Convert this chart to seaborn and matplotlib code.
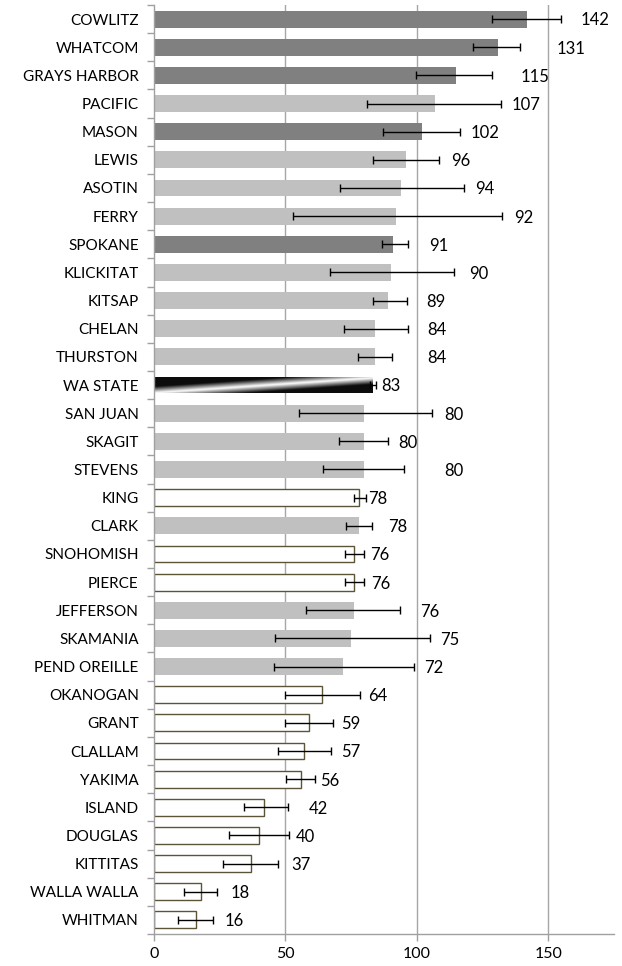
import numpy as np
import pandas as pd
import matplotlib
matplotlib.use("Agg")
import matplotlib.pyplot as plt
import seaborn as sns

counties = ["COWLITZ", "WHATCOM", "GRAYS HARBOR", "PACIFIC", "MASON", "LEWIS", "ASOTIN",
            "FERRY", "SPOKANE", "KLICKITAT", "KITSAP", "CHELAN", "THURSTON", "WA STATE",
            "SAN JUAN", "SKAGIT", "STEVENS", "KING", "CLARK", "SNOHOMISH", "PIERCE",
            "JEFFERSON", "SKAMANIA", "PEND OREILLE", "OKANOGAN", "GRANT", "CLALLAM",
            "YAKIMA", "ISLAND", "DOUGLAS", "KITTITAS", "WALLA WALLA", "WHITMAN"]
rates = [142, 131, 115, 107, 102, 96, 94, 92, 91, 90, 89, 84, 84, 83, 80, 80, 80,
         78, 78, 76, 76, 76, 75, 72, 64, 59, 57, 56, 42, 40, 37, 18, 16]
ci_low = [128.4, 121.2, 99.8, 81.2, 87.1, 83.3, 70.6, 52.9, 86.8, 66.8, 83.2, 72.1, 77.5,
          82.2, 55.0, 70.5, 64.4, 76.1, 73.2, 72.6, 72.6, 57.9, 46.1, 45.7, 49.9, 49.9,
          47.0, 50.4, 34.2, 28.6, 26.1, 11.6, 9.3]
ci_high = [154.8, 139.4, 128.4, 132.2, 116.5, 108.5, 118.0, 132.4, 96.6, 114.0, 96.2, 96.6,
           90.5, 84.5, 105.8, 89.0, 95.1, 80.8, 83.0, 79.9, 79.9, 93.7, 104.9, 99.0, 78.5,
           68.2, 67.4, 61.3, 50.8, 51.5, 47.0, 24.0, 22.6]
# group: 'high' = significantly higher, 'ns' = not significant, 'low' = lower, 'state'
groups = ["high", "high", "high", "ns", "high", "ns", "ns", "ns", "high", "ns", "ns", "ns",
          "ns", "state", "ns", "ns", "ns", "low", "ns", "low", "low", "ns", "ns", "ns",
          "low", "low", "low", "low", "low", "low", "low", "low", "low"]
xticks = [0, 50, 100, 150]

# label anchor positions (data units)
label_x = [162.3, 153.1, 139.4, 136.0, 120.4, 113.1, 122.3, 137.1, 104.8, 120.0, 103.6,
           104.0, 104.0, 86.5, 110.5, 93.0, 110.5, 81.5, 89.1, 82.3, 82.7, 101.3, 109.0,
           102.6, 81.5, 71.2, 71.2, 63.2, 59.0, 54.1, 52.2, 29.3, 26.7]

fill = {"high": "#808080", "ns": "#c0c0c0", "low": "#ffffff", "state": "#ffffff"}
edge = {"high": "none", "ns": "none", "low": "#5c5437", "state": "none"}

df = pd.DataFrame({"county": counties, "rate": rates})

fig = plt.figure(figsize=(6.22, 9.66), dpi=100)
ax = fig.add_axes([154 / 622, 1 - 934 / 966, (614 - 154) / 622, (934 - 5) / 966])

sns.barplot(data=df, x="rate", y="county", hue="county", legend=False,
            palette=[fill[g] for g in groups], orient="h", width=0.6, ax=ax,
            saturation=1, zorder=2)

for patch, g in zip(ax.patches, groups):
    if edge[g] != "none":
        patch.set_edgecolor(edge[g])
        patch.set_linewidth(1.0)
    else:
        patch.set_edgecolor("none")
    if g == "state":
        x0, y0 = patch.get_x(), patch.get_y()
        w, h = patch.get_width(), patch.get_height()
        nx, ny = 300, 40
        xx, yy = np.meshgrid(np.linspace(0, 1, nx), np.linspace(0, 1, ny))
        # diagonal light band from top-left to bottom-right, dark on both sides
        t = yy - (1 - xx * 0.9)
        val = np.clip(np.abs(t) * 2.6, 0, 1)
        im = ax.imshow(val, cmap="gray_r", extent=(x0, x0 + w, y0 + h, y0),
                       aspect="auto", zorder=2.5, interpolation="bilinear",
                       vmin=0, vmax=1.05)
        im.set_clip_path(patch)

ypos = np.arange(len(counties))
rates_a = np.array(rates)
xerr = np.vstack([rates_a - np.array(ci_low), np.array(ci_high) - rates_a])
xerr = np.clip(xerr, 0, None)
ax.errorbar(rates_a, ypos, xerr=xerr, fmt="none", ecolor="#000000", elinewidth=1.0,
            capsize=3.2, capthick=1.0, zorder=3)

font = ["Lato", "DejaVu Sans"]
for y, lx, v in zip(ypos, label_x, rates):
    ax.text(lx, y + 0.05, f"{v}", va="center", ha="left", fontsize=12,
            family=font, color="#000000", zorder=4)

ax.set_xlim(0, 175)
ax.set_ylim(len(counties) - 0.5, -0.5)
ax.set_xticks(xticks)
ax.set_xticklabels([str(t) for t in xticks], fontsize=11.5, family=font, color="#000000")
ax.tick_params(axis="x", length=5, width=1, color="#a0a0a0", direction="out", pad=4)
ax.set_yticks(ypos)
ax.set_yticklabels(counties, fontsize=11, family=font, color="#000000")
ax.tick_params(axis="y", which="major", length=0, pad=11)
ax.set_yticks(np.arange(-0.5, len(counties) + 0.5, 1.0), minor=True)
ax.tick_params(axis="y", which="minor", length=5, width=1, color="#a0a0a0", direction="out")
ax.set_xlabel("")
ax.set_ylabel("")

for x in xticks[1:]:
    ax.axvline(x, color="#a6a6a6", lw=1.0, zorder=1)

for s in ["top", "right"]:
    ax.spines[s].set_visible(False)
for s in ["left", "bottom"]:
    ax.spines[s].set_color("#a0a0a0")
    ax.spines[s].set_linewidth(1.0)
ax.set_facecolor("white")
ax.grid(False)

fig.savefig("out.png", dpi=100, facecolor="white")
